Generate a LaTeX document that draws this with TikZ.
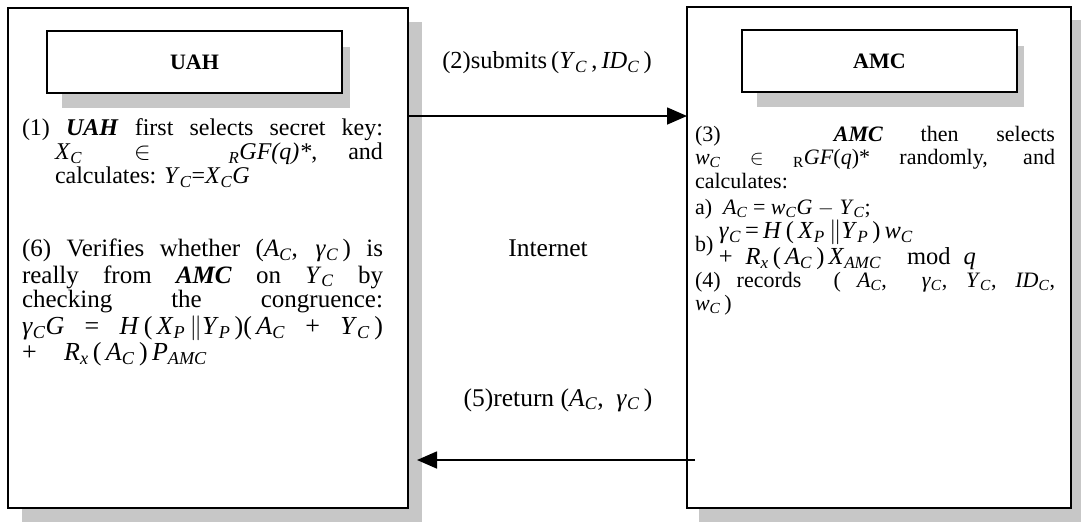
\documentclass[tikz,border=0pt]{standalone}
\usepackage{fontspec}
\setmainfont{Liberation Serif}
\usetikzlibrary{arrows.meta,positioning}
\newcommand{\vr}[2]{\textit{#1}\textsubscript{\textit{#2}}}
\newcommand{\gam}{\textit{γ}\textsubscript{\textit{C}}}

\begin{document}
\begin{tikzpicture}[
  x=1pt, y=-1pt,
  >={Triangle[length=20pt,width=17pt]},
  every node/.style={inner sep=0pt, outer sep=0pt},
  party/.style={draw, line width=1.6pt, fill=white, anchor=north west},
  titlebox/.style={draw, line width=1.6pt, fill=white, anchor=north west, font=\fontsize{22}{24}\selectfont\bfseries},
  shadowbox/.style={fill=black!22, draw=none},
  lefttxt/.style={anchor=north west, align=left, font=\fontsize{24}{24}\selectfont},
  righttxt/.style={anchor=north west, align=left, font=\fontsize{22}{23.5}\selectfont},
  formula/.style={anchor=north west, align=left, font=\fontsize{26}{26}\selectfont},
  netlabel/.style={font=\fontsize{25.5}{27}\selectfont},
  msg/.style={draw=black, line width=1.6pt, ->}
]
\useasboundingbox (0,0) rectangle (1081,525);

% shadows
\fill[shadowbox] (22,22) rectangle (422,522);
\fill[shadowbox] (699,20) rectangle (1081,522);

% the two parties
\node[party, minimum width=400pt, minimum height=500pt] (uah) at (8,8) {};
\node[party, minimum width=384pt, minimum height=501pt] (amc) at (687,7) {};

\fill[shadowbox] (62,47) rectangle (350,108);
\fill[shadowbox] (757,46) rectangle (1024,107);
\node[titlebox, minimum width=295pt, minimum height=62pt] (uahtitle) at (47,31) {UAH};
\node[titlebox, minimum width=275pt, minimum height=62pt] (amctitle) at (742,30) {AMC};

% UAH side
\node[lefttxt] (step1) at (22,119) {%
  \makebox[361pt][s]{(1) \textbf{\textit{UAH}} first selects secret key:}\\
  \hspace*{33pt}\makebox[328pt][s]{\vr{X}{C} \ $\in$ \ \ \textsubscript{\textit{R}}\textit{GF(q)*}, and}\\
  \hspace*{33pt}calculates: \vr{Y}{C}=\vr{X}{C}\textit{G}};
\node[lefttxt, font=\fontsize{25}{24.5}\selectfont] (step6) at (22,239) {%
  \makebox[361pt][s]{(6) Verifies whether (\vr{A}{C}, \gam\,) is}\\[2pt]
  \makebox[361pt][s]{really from \textbf{\textit{AMC}} on \vr{Y}{C} by}\\
  \makebox[361pt][s]{checking the congruence:}};
\node[formula] (congr) at (22,316) {%
  \makebox[361pt][s]{\gam\textit{G} = \textit{H}\,(\,\vr{X}{P}\,$\|$\vr{Y}{P}\,)(\,\vr{A}{C} + \vr{Y}{C}\,)}\\
  \makebox[185pt][s]{+ \vr{R}{x}\,(\,\vr{A}{C}\,)\,\vr{P}{AMC}}};

% AMC side
\node[righttxt] (step3) at (695,126) {%
  \makebox[360pt][s]{(3) \ \ \textbf{\textit{AMC}} then selects}\\
  \makebox[360pt][s]{\vr{w}{C} $\in$ \textsubscript{R}\textit{GF}(\textit{q})* randomly, and}\\
  calculates:\\[3pt]
  a) \ \vr{A}{C} = \vr{w}{C}\textit{G} $-$ \vr{Y}{C};};
\node[righttxt, anchor=west] (stepb) at (695,246) {%
  b) \begin{tabular}[c]{@{}l@{}}
  \fontsize{24.5}{26}\selectfont\makebox[167pt][s]{\gam{} = \textit{H}\,(\,\vr{X}{P}\,$\|$\vr{Y}{P}\,)\,\vr{w}{C}}\\[2pt]
  \fontsize{24.5}{26}\selectfont\makebox[257pt][s]{+ \vr{R}{x}\,(\,\vr{A}{C}\,)\,\vr{X}{AMC} \ mod \textit{q}}
  \end{tabular}};
\node[righttxt] (step4) at (695,272) {%
  \makebox[360pt][s]{(4) records \ ( \vr{A}{C}, \ \gam, \vr{Y}{C}, \vr{ID}{C},}\\
  \vr{w}{C}\,)};

% messages over the Internet
\coordinate (up) at (0,116);
\coordinate (down) at (0,460);
\draw[msg] (uah.east |- up) -- (amc.west |- up);
\draw[msg] ([xshift=8pt]amc.west |- down) -- ([xshift=9pt]uah.east |- down);

\node[netlabel, font=\fontsize{24.5}{26}\selectfont] (submit) at (547,63) {(2)submits\,(\vr{Y}{C}\,,\,\vr{ID}{C}\,)};
\node[netlabel] (net) at (548,248) {Internet};
\node[netlabel] (ret) at (558,400) {(5)return (\vr{A}{C}, \ \gam\,)};
\end{tikzpicture}
\end{document}
